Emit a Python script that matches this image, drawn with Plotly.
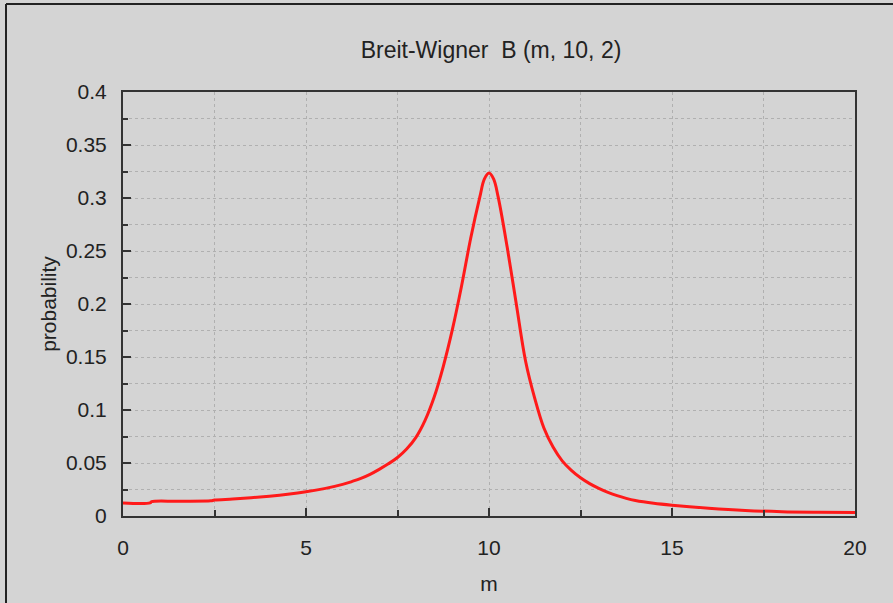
import plotly.graph_objects as go

# values
m_values = [0.0, 0.74, 0.78, 1.5, 2.4, 2.5, 3.0, 3.5, 4.0, 4.5, 5.0, 5.5, 6.0, 6.25, 6.5,
            6.75, 7.0, 7.25, 7.5, 7.75, 8.0, 8.25, 8.5, 8.75, 9.0, 9.25, 9.5, 9.75, 9.875,
            10.0, 10.125, 10.25, 10.5, 10.75, 11.0, 11.25, 11.5, 11.75, 12.0, 12.25,
            12.5, 12.75, 13.0, 13.25, 13.5, 13.75, 14.0, 14.5, 15.0, 16.0, 17.0, 18.0,
            19.0, 20.0]
probability = [0.0123, 0.0124, 0.0135, 0.0139, 0.0143, 0.0150, 0.0160, 0.0172, 0.0187,
               0.0205, 0.0228, 0.0258, 0.0298, 0.0325, 0.0355, 0.0393, 0.0440, 0.0492,
               0.0552, 0.0632, 0.0740, 0.0900, 0.1120, 0.1410, 0.1760, 0.2170, 0.2620,
               0.3010, 0.3180, 0.3235, 0.3180, 0.3010, 0.2530, 0.1990, 0.1460, 0.1110,
               0.0830, 0.0650, 0.0520, 0.0430, 0.0360, 0.0305, 0.0260, 0.0222, 0.0192,
               0.0166, 0.0146, 0.0120, 0.0102, 0.0074, 0.0053, 0.0041, 0.0036, 0.0034]

x_ticks = [0, 5, 10, 15, 20]
y_ticks = [0, 0.05, 0.1, 0.15, 0.2, 0.25, 0.3, 0.35, 0.4]
y_tick_labels = ["0", "0.05", "0.1", "0.15", "0.2", "0.25", "0.3", "0.35", "0.4"]

BG = "#d4d4d4"
AX = "#333333"
GRID = "#b0b0b0"
FONT = "Liberation Sans"

fig = go.Figure()
fig.add_trace(go.Scatter(x=m_values, y=probability, mode="lines",
                         line=dict(color="#ff1a1a", width=3, shape="spline", smoothing=1.0),
                         showlegend=False))

W, H = 893, 603
L, R, T, B = 123, 38, 92, 87
pw, ph = W - L - R, H - T - B

def px(x):
    return (x - L) / pw

def py(y):
    return (H - B - y) / ph

fig.update_layout(
    width=W, height=H,
    margin=dict(l=L, r=R, t=T, b=B),
    paper_bgcolor=BG, plot_bgcolor=BG,
    font=dict(family=FONT, color="#222222", size=21),
    title=dict(text="Breit-Wigner  B (m, 10, 2)", x=491 / W, xanchor="center",
               y=1 - 50 / H, yanchor="middle", font=dict(size=23, color="#222222")),
    shapes=[dict(type="line", xref="paper", yref="paper", x0=px(6), x1=px(900),
                 y0=py(4), y1=py(4), line=dict(color="#222222", width=2)),
            dict(type="line", xref="paper", yref="paper", x0=px(6), x1=px(6),
                 y0=py(4), y1=py(610), line=dict(color="#222222", width=2))],
)

fig.update_xaxes(
    range=[0, 20], tickvals=x_ticks, ticktext=[str(v) for v in x_ticks],
    showline=True, linecolor=AX, linewidth=2, mirror=True,
    ticks="inside", ticklen=8, tickwidth=2, tickcolor=AX,
    ticklabelstandoff=12,
    showgrid=True, gridcolor=GRID, griddash="dot", gridwidth=1,
    zeroline=False,
    minor=dict(dtick=2.5, tick0=0, ticks="inside", ticklen=6, tickwidth=2, tickcolor=AX,
               showgrid=True, gridcolor=GRID, griddash="dot", gridwidth=1),
    title=dict(text="m", font=dict(size=21), standoff=18),
)
fig.update_yaxes(
    range=[0, 0.4], tickvals=y_ticks, ticktext=y_tick_labels,
    showline=True, linecolor=AX, linewidth=2, mirror=True,
    ticks="inside", ticklen=8, tickwidth=2, tickcolor=AX,
    ticklabelstandoff=10,
    showgrid=True, gridcolor=GRID, griddash="dot", gridwidth=1,
    zeroline=False,
    minor=dict(dtick=0.025, tick0=0, ticks="inside", ticklen=5, tickwidth=2, tickcolor=AX,
               showgrid=True, gridcolor=GRID, griddash="dot", gridwidth=1),
    title=dict(text="probability", font=dict(size=21), standoff=4),
)

fig.write_html("out.html")
